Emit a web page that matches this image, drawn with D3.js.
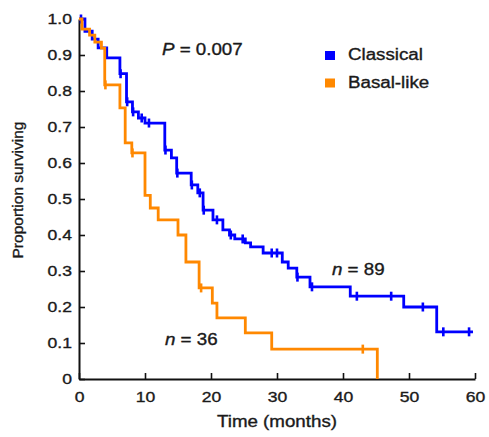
<!DOCTYPE html>
<html>
<head>
<meta charset="utf-8">
<script src="https://cdn.jsdelivr.net/npm/d3@7"></script>
<style>
  html, body { margin: 0; padding: 0; background: #fff; }
  svg { display: block; }
  text { font-family: "Liberation Sans", Arial, Helvetica, sans-serif; fill: #1a1a1a; stroke: #1a1a1a; stroke-width: 0.35px; }
</style>
</head>
<body>
<svg id="chart" width="489" height="437"></svg>
<script>
// ---- Data ----
const xTicks = [0, 10, 20, 30, 40, 50, 60];
const yTicks = [0, 0.1, 0.2, 0.3, 0.4, 0.5, 0.6, 0.7, 0.8, 0.9, 1.0];

const classicalTime = [0, 0.9, 2.0, 2.9, 4.2, 6.2, 7.2, 8.1, 9.0, 10.0, 13.0, 14.0, 14.8, 17.0, 18.0, 18.8, 20.3, 21.8, 22.8, 23.6, 25.2, 26.0, 27.9, 30.8, 31.7, 33.0, 35.0, 41.1, 49.2, 54.2, 59.7];
const classicalSurv = [1.0, 0.966, 0.944, 0.92, 0.892, 0.848, 0.77, 0.742, 0.725, 0.711, 0.636, 0.614, 0.572, 0.539, 0.517, 0.469, 0.442, 0.414, 0.4, 0.389, 0.378, 0.367, 0.35, 0.325, 0.308, 0.283, 0.256, 0.23, 0.2, 0.131, 0.131];
const classicalCensor = [0.3, 6.3, 7.3, 8.2, 9.5, 10.6, 13.1, 14.9, 17.1, 18.3, 18.9, 20.9, 23.0, 24.8, 29.2, 30.0, 33.1, 35.3, 42.1, 47.3, 52.1, 55.2, 59.1];

const basalTime = [0, 0.45, 1.6, 2.4, 3.4, 3.9, 6.2, 7.0, 8.0, 10.0, 10.8, 12.0, 15.0, 16.2, 18.2, 20.2, 20.9, 25.2, 29.2, 45.2];
const basalSurv = [1.0, 0.972, 0.955, 0.936, 0.919, 0.817, 0.753, 0.656, 0.628, 0.51, 0.475, 0.442, 0.4, 0.325, 0.253, 0.211, 0.17, 0.128, 0.083, 0];
const basalCensor = [4.0, 8.1, 18.5, 43.0];

const seriesNames = ["Classical", "Basal-like"];
const seriesColors = ["#0000ff", "#ff8800"];
const pText = "0.007";
const nLabels = ["n = 89", "n = 36"];

// ---- Layout ----
const svg = d3.select("#chart");
const margin = { left: 79, right: 14, top: 19, bottom: 58 };
const W = 489, H = 437;
const STRETCH = 1.17;

const x = d3.scaleLinear().domain([0, 60]).range([margin.left, W - margin.right]);
const y = d3.scaleLinear().domain([0, 1]).range([H - margin.bottom, margin.top]);

function stretch(sel) {
  sel.each(function () {
    const len = this.getComputedTextLength();
    if (len > 0) {
      this.setAttribute("textLength", (len * STRETCH).toFixed(2));
      this.setAttribute("lengthAdjust", "spacingAndGlyphs");
    }
  });
}

// Axes
const xAxis = d3.axisBottom(x).tickValues(xTicks).tickFormat(d3.format("d"))
  .tickSizeInner(-6).tickSizeOuter(0).tickPadding(12);
const yAxis = d3.axisLeft(y).tickValues(yTicks)
  .tickFormat(d => d === 0 ? "0" : d.toFixed(1))
  .tickSizeInner(-6).tickSizeOuter(0).tickPadding(7);

const gx = svg.append("g").attr("transform", `translate(0,${y(0)})`).call(xAxis);
const gy = svg.append("g").attr("transform", `translate(${x(0)},0)`).call(yAxis);
[gx, gy].forEach(g => {
  g.select(".domain").attr("stroke", "#111").attr("stroke-width", 2);
  g.selectAll(".tick line").attr("stroke", "#111").attr("stroke-width", 1.6);
  g.selectAll(".tick text").attr("font-size", 15).attr("fill", "#1a1a1a")
    .attr("font-family", '"Liberation Sans", Arial, sans-serif');
});
stretch(gx.selectAll(".tick text"));
stretch(gy.selectAll(".tick text"));

// Axis titles
svg.append("text").attr("x", 277).attr("y", 427).attr("text-anchor", "middle")
  .attr("font-size", 16).text("Time (months)").call(stretch);
svg.append("text").attr("transform", `translate(23,${190}) rotate(-90)`)
  .attr("text-anchor", "middle").attr("font-size", 15.5).text("Proportion surviving");

// Curves
const curves = [
  { t: classicalTime, s: classicalSurv, c: classicalCensor, color: seriesColors[0] },
  { t: basalTime, s: basalSurv, c: basalCensor, color: seriesColors[1] }
];
const line = d3.line().x(d => x(d[0])).y(d => y(d[1])).curve(d3.curveStepAfter);

curves.forEach(cv => {
  const pts = cv.t.map((t, i) => [t, cv.s[i]]);
  svg.append("path").datum(pts).attr("d", line)
    .attr("fill", "none").attr("stroke", cv.color).attr("stroke-width", 2.8)
    .attr("stroke-linejoin", "miter").attr("stroke-linecap", "butt");
  const survAt = t => {
    const i = d3.bisectRight(cv.t, t) - 1;
    return cv.s[Math.max(0, i)];
  };
  svg.append("g").selectAll("line").data(cv.c).join("line")
    .attr("x1", d => x(d)).attr("x2", d => x(d))
    .attr("y1", d => y(survAt(d)) - 4.5).attr("y2", d => y(survAt(d)) + 4.5)
    .attr("stroke", cv.color).attr("stroke-width", 2.6);
});

// P value
const pt = svg.append("text").attr("x", 162).attr("y", 55).attr("font-size", 16);
pt.append("tspan").attr("font-style", "italic").text("P");
pt.append("tspan").text(" = " + pText);
stretch(pt);

// Legend
const leg = svg.append("g");
seriesNames.forEach((name, i) => {
  const yy = 60 + i * 27.5;
  leg.append("rect").attr("x", 325).attr("y", yy - 9).attr("width", 10).attr("height", 9)
    .attr("fill", seriesColors[i]);
  leg.append("text").attr("x", 348).attr("y", yy).attr("font-size", 16).text(name).call(stretch);
});

// n labels
const nPos = [[332, 275], [165, 345]];
nLabels.forEach((lab, i) => {
  const parts = lab.split(" = ");
  const t = svg.append("text").attr("x", nPos[i][0]).attr("y", nPos[i][1]).attr("font-size", 16);
  t.append("tspan").attr("font-style", "italic").text(parts[0]);
  t.append("tspan").text(" = " + parts[1]);
  stretch(t);
});
</script>
</body>
</html>
